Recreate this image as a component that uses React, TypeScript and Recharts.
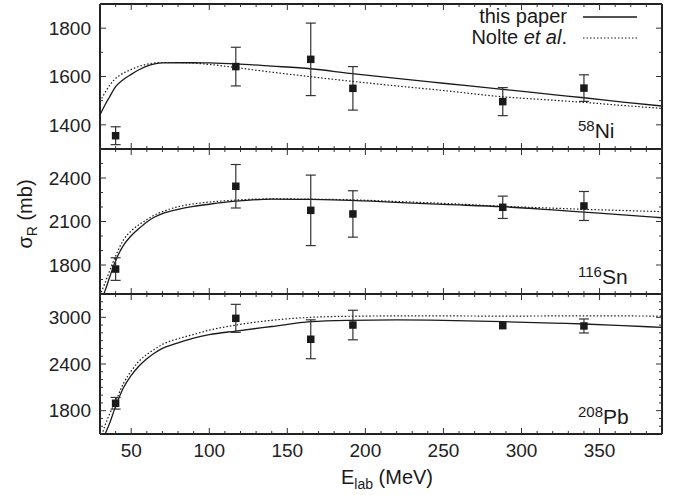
import React from "react";
import { ComposedChart, Line, Scatter, XAxis, YAxis, ErrorBar } from "recharts";

const energies = [30, 33, 36, 40, 45, 50, 55, 60, 65, 70, 80, 90, 100, 117, 140, 165, 190, 220, 250, 288, 320, 340, 365, 390];

const niThisPaper = [1441, 1480, 1514, 1558, 1588, 1609, 1628, 1643, 1652, 1656, 1657, 1657, 1656, 1652, 1643, 1632, 1613, 1592, 1572, 1547, 1525, 1512, 1494, 1478];
const niNolte = [1496, 1531, 1562, 1592, 1614, 1629, 1642, 1651, 1656, 1658, 1658, 1655, 1650, 1637, 1618, 1599, 1581, 1561, 1542, 1516, 1502, 1493, 1480, 1468];

const snThisPaper = [1540, 1615, 1710, 1830, 1935, 2002, 2052, 2097, 2131, 2155, 2184, 2204, 2219, 2240, 2255, 2252, 2246, 2232, 2218, 2202, 2180, 2165, 2146, 2126];
const snNolte = [1590, 1670, 1755, 1862, 1972, 2035, 2078, 2113, 2145, 2168, 2202, 2222, 2234, 2248, 2256, 2254, 2250, 2238, 2225, 2205, 2192, 2184, 2176, 2168];

const pbThisPaper = [1300, 1480, 1630, 1855, 2095, 2255, 2375, 2469, 2542, 2600, 2672, 2733, 2777, 2824, 2882, 2944, 2962, 2968, 2962, 2944, 2926, 2914, 2893, 2871];
const pbNolte = [1400, 1600, 1750, 1920, 2150, 2310, 2436, 2524, 2590, 2652, 2725, 2780, 2835, 2900, 2962, 3000, 3014, 3018, 3018, 3016, 3018, 3020, 3018, 3016];

// measured cross sections
const expEnergies = [40, 117, 165, 192, 288, 340];
const niExp = [1355, 1641, 1671, 1551, 1496, 1552];
const niErr = [37, 80, 150, 90, 58, 55];
const snExp = [1772, 2343, 2177, 2152, 2198, 2207];
const snErr = [78, 150, 243, 160, 77, 100];
const pbExp = [1895, 2987, 2718, 2901, 2893, 2889];
const pbErr = [75, 180, 250, 190, 0, 90];

// ticks
const xTicks = [30, 40, 50, 60, 70, 80, 90, 100, 110, 120, 130, 140, 150, 160, 170, 180, 190, 200, 210, 220, 230, 240, 250, 260, 270, 280, 290, 300, 310, 320, 330, 340, 350, 360, 370, 380, 390];
const xLabels = [50, 100, 150, 200, 250, 300, 350];
const niTicks = [1300, 1400, 1500, 1600, 1700, 1800, 1900];
const niLabels = [1400, 1600, 1800];
const snTicks = [1600, 1700, 1800, 1900, 2000, 2100, 2200, 2300, 2400, 2500, 2600];
const snLabels = [1800, 2100, 2400];
const pbTicks = [1500, 1600, 1700, 1800, 1900, 2000, 2100, 2200, 2300, 2400, 2500, 2600, 2700, 2800, 2900, 3000, 3100, 3200, 3300];
const pbLabels = [1800, 2400, 3000];

const FONT = '"Liberation Sans", Arial, Helvetica, sans-serif';
const INK = "#1a1a1a";
const FRAME = { stroke: "#222", strokeWidth: 2 };

type TickProps = { x: number; y: number; payload: { value: number } };

const bottomTick = (labels: number[], showText: boolean) => (p: TickProps) => {
  const major = labels.includes(p.payload.value);
  return (
    <g>
      <line x1={p.x} x2={p.x} y1={p.y} y2={p.y - (major ? 6 : 3)} stroke="#333" strokeWidth={1} />
      {showText && major && (
        <text x={p.x} y={p.y + 22.5} textAnchor="middle" fontSize={19} fontFamily={FONT} fill="#222">
          {p.payload.value}
        </text>
      )}
    </g>
  );
};

const topTick = (labels: number[]) => (p: TickProps) => {
  const major = labels.includes(p.payload.value);
  return <line x1={p.x} x2={p.x} y1={p.y} y2={p.y + (major ? 6 : 3)} stroke="#333" strokeWidth={1} />;
};

const leftTick = (labels: number[]) => (p: TickProps) => {
  const major = labels.includes(p.payload.value);
  return (
    <g>
      <line x1={p.x} x2={p.x + (major ? 6 : 3)} y1={p.y} y2={p.y} stroke="#333" strokeWidth={1} />
      {major && (
        <text x={p.x - 9} y={p.y + 6.8} textAnchor="end" fontSize={19} fontFamily={FONT} fill="#222">
          {p.payload.value}
        </text>
      )}
    </g>
  );
};

const rightTick = (labels: number[]) => (p: TickProps) => {
  const major = labels.includes(p.payload.value);
  return <line x1={p.x} x2={p.x - (major ? 6 : 3)} y1={p.y} y2={p.y} stroke="#333" strokeWidth={1} />;
};

const square = (p: { cx: number; cy: number }) => (
  <rect x={p.cx - 3.75} y={p.cy - 3.75} width={7.5} height={7.5} fill={INK} />
);

// axes get 1px of room each (Recharts skips drawing a 0-sized axis)
function Panel({
  top, height, marginTop, marginBottom, solid, dotted, exp, err, yTicks, yLabels, showXText,
}: {
  top: number; height: number; marginTop: number; marginBottom: number;
  solid: number[]; dotted: number[]; exp: number[]; err: number[];
  yTicks: number[]; yLabels: number[]; showXText: boolean;
}) {
  const solidData = energies.map((x, i) => ({ x, y: solid[i] }));
  const dottedData = energies.map((x, i) => ({ x, y: dotted[i] }));
  const expData = expEnergies.map((x, i) => ({ x, y: exp[i], err: err[i] }));
  const yDomain = [yTicks[0], yTicks[yTicks.length - 1]];
  return (
    <div style={{ position: "absolute", left: 0, top }}>
      <ComposedChart width={683} height={height} margin={{ top: marginTop, bottom: marginBottom, left: 99, right: 20 }}>
        <XAxis type="number" dataKey="x" domain={[30, 390]} ticks={xTicks} interval={0} allowDataOverflow
          height={1} tickSize={0} tickMargin={0} tickLine={false} axisLine={FRAME} tick={bottomTick(xLabels, showXText)} />
        <XAxis xAxisId="t" orientation="top" type="number" dataKey="x" domain={[30, 390]} ticks={xTicks} interval={0}
          allowDataOverflow height={1} tickSize={0} tickMargin={0} tickLine={false} axisLine={FRAME} tick={topTick(xLabels)} />
        <YAxis type="number" domain={yDomain} ticks={yTicks} interval={0} allowDataOverflow width={1}
          tickSize={0} tickMargin={0} tickLine={false} axisLine={FRAME} tick={leftTick(yLabels)} />
        <YAxis yAxisId="r" orientation="right" type="number" domain={yDomain} ticks={yTicks} interval={0} allowDataOverflow
          width={1} tickSize={0} tickMargin={0} tickLine={false} axisLine={FRAME} tick={rightTick(yLabels)} />
        <Line data={dottedData} dataKey="y" type="monotone" stroke={INK} strokeWidth={1.2} strokeDasharray="1.5 2"
          dot={false} isAnimationActive={false} />
        <Line data={solidData} dataKey="y" type="monotone" stroke={INK} strokeWidth={1.3} dot={false} isAnimationActive={false} />
        <Scatter data={expData} dataKey="y" shape={square} isAnimationActive={false}>
          <ErrorBar dataKey="err" direction="y" width={5} stroke="#333" strokeWidth={1.2} isAnimationActive={false} />
        </Scatter>
      </ComposedChart>
    </div>
  );
}

const nucleus = (mass: string, sym: string, left: number, baseline: number) => (
  <div style={{ position: "absolute", left, top: baseline - 19, fontSize: 21, lineHeight: "21px", color: INK }}>
    <span style={{ fontSize: 15, verticalAlign: 7 }}>{mass}</span>
    {sym}
  </div>
);

export default function App() {
  return (
    <div style={{ position: "absolute", left: 0, top: 0, width: 683, height: 495, background: "#fff", fontFamily: FONT, color: INK }}>
      <style>{`.recharts-surface{overflow:visible}`}</style>
      <Panel top={0} height={150} marginTop={3} marginBottom={0} solid={niThisPaper} dotted={niNolte}
        exp={niExp} err={niErr} yTicks={niTicks} yLabels={niLabels} showXText={false} />
      <Panel top={148} height={147} marginTop={0} marginBottom={0} solid={snThisPaper} dotted={snNolte}
        exp={snExp} err={snErr} yTicks={snTicks} yLabels={snLabels} showXText={false} />
      <Panel top={293} height={202} marginTop={0} marginBottom={60} solid={pbThisPaper} dotted={pbNolte}
        exp={pbExp} err={pbErr} yTicks={pbTicks} yLabels={pbLabels} showXText={true} />

      {/* legend */}
      <div style={{ position: "absolute", right: 683 - 567, top: 6, fontSize: 20, lineHeight: "21px", textAlign: "right" }}>
        <div>this paper</div>
        <div>Nolte <i>et al</i>.</div>
      </div>
      <svg style={{ position: "absolute", left: 582, top: 0 }} width={56} height={45}>
        <line x1={1} x2={55} y1={17} y2={17} stroke={INK} strokeWidth={1.3} />
        <line x1={1} x2={55} y1={38} y2={38} stroke={INK} strokeWidth={1.2} strokeDasharray="1.5 2" />
      </svg>

      {nucleus("58", "Ni", 578, 134)}
      {nucleus("116", "Sn", 578, 280)}
      {nucleus("208", "Pb", 578, 420)}

      {/* axis titles */}
      <div style={{ position: "absolute", left: 27, top: 214, transform: "translate(-50%, -50%) rotate(-90deg)", fontSize: 20, whiteSpace: "nowrap" }}>
        σ<sub style={{ fontSize: 14 }}>R</sub> (mb)
      </div>
      <div style={{ position: "absolute", left: 387, top: 466, transform: "translateX(-50%)", fontSize: 20, whiteSpace: "nowrap" }}>
        E<sub style={{ fontSize: 14 }}>lab</sub> (MeV)
      </div>
    </div>
  );
}
